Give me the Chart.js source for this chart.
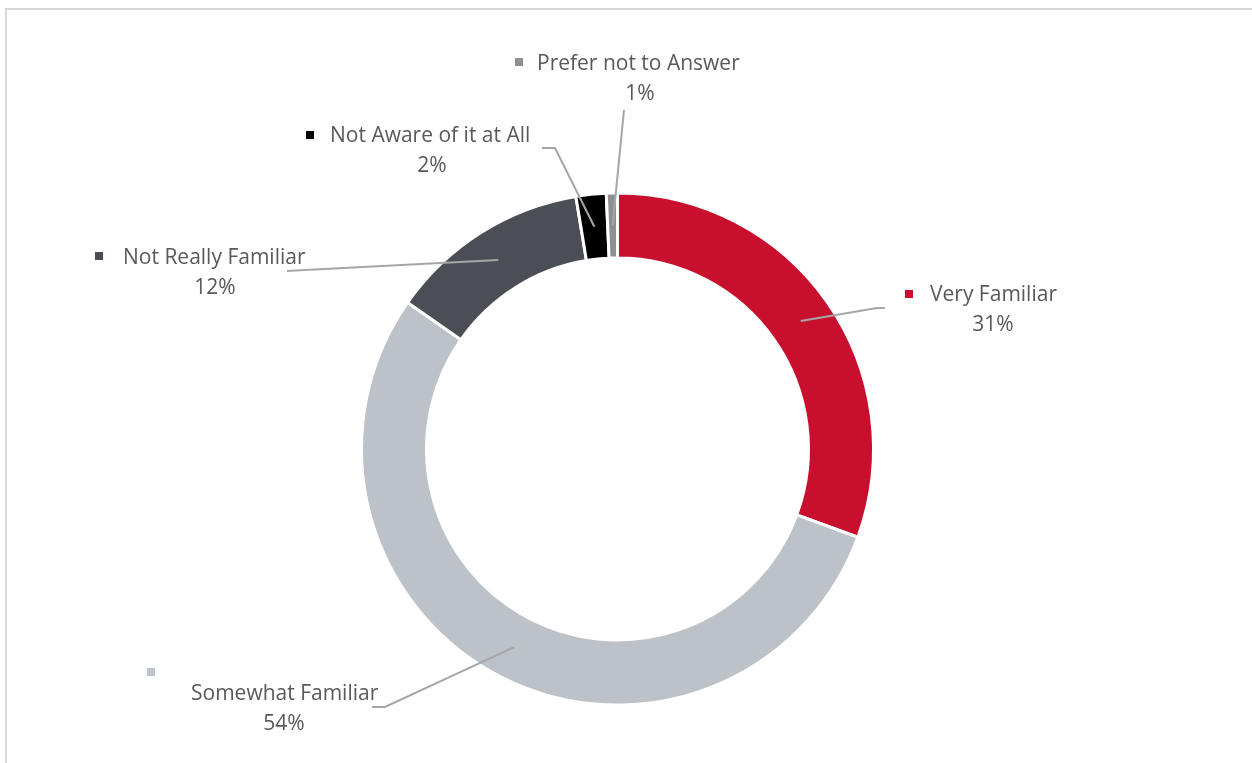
<!DOCTYPE html>
<html>
<head>
<meta charset="utf-8">
<script src="https://cdn.jsdelivr.net/npm/chart.js@4.4.1/dist/chart.umd.min.js"></script>
<style>
  html, body { margin: 0; padding: 0; background: #fff; }
  #wrap { position: relative; width: 1252px; height: 763px; overflow: hidden; }
  #frame {
    position: absolute; left: 5px; top: 8px; width: 1400px; height: 900px;
    border-left: 2px solid #d9d9d9; border-top: 2px solid #d9d9d9;
  }
  canvas { position: absolute; left: 0; top: 0; }
</style>
</head>
<body>
<div id="wrap">
  <div id="frame"></div>
  <canvas id="chart" width="1252" height="763"></canvas>
</div>
<script>
// values (share of respondents, %)
const categories = ['Very Familiar', 'Somewhat Familiar', 'Not Really Familiar', 'Not Aware of it at All', 'Prefer not to Answer'];
const shares = [30.6, 54.1, 12.7, 1.9, 0.7];
const shareLabels = ['31%', '54%', '12%', '2%', '1%'];
const colors = ['#c8102e', '#bcc2c7', '#4b4e55', '#000000', '#8f8f8f'];

// where each data label sits: text left / vertical centre, percent centre,
// legend key centre, and leader line points before it reaches the ring
const labelLayout = [
    { textX: 930, y: 295, pctX: 993, key: [909, 294], leader: [[885, 308], [877, 308]] },
    { textX: 191, y: 694, pctX: 284, key: [151, 672], leader: [[372, 707], [385, 707]] },
    { textX: 123, y: 258, pctX: 215, key: [99, 256], leader: [[287, 271], [305, 270]] },
    { textX: 330, y: 136, pctX: 432, key: [310, 135], leader: [[542, 148], [555, 148]] },
    { textX: 537, y: 64, pctX: 640, key: [519, 62], leader: [[624, 110]] }
];

const labelFont = '21px "Open Sans", "Noto Sans", sans-serif';
const textColor = '#595959';
const leaderColor = '#a6a6a6';

const calloutPlugin = {
    id: 'callouts',
    afterDatasetsDraw(chart) {
        const ctx = chart.ctx;
        const meta = chart.getDatasetMeta(0);
        ctx.save();

        meta.data.forEach((arc, i) => {
            const lay = labelLayout[i];
            const p = arc.tooltipPosition();

            // leader line
            ctx.strokeStyle = leaderColor;
            ctx.lineWidth = 2;
            ctx.beginPath();
            ctx.moveTo(lay.leader[0][0], lay.leader[0][1]);
            lay.leader.slice(1).forEach(pt => ctx.lineTo(pt[0], pt[1]));
            ctx.lineTo(p.x, p.y);
            ctx.stroke();

            // legend key
            ctx.fillStyle = colors[i];
            ctx.fillRect(lay.key[0] - 4, lay.key[1] - 4, 8, 8);

            // text
            ctx.font = labelFont;
            ctx.fillStyle = textColor;
            ctx.textBaseline = 'middle';
            ctx.textAlign = 'left';
            ctx.fillText(categories[i], lay.textX, lay.y);
            ctx.textAlign = 'center';
            ctx.fillText(shareLabels[i], lay.pctX, lay.y + 30);
        });

        ctx.restore();
    }
};

new Chart(document.getElementById('chart'), {
    type: 'doughnut',
    data: {
        labels: categories,
        datasets: [{
            data: shares,
            backgroundColor: colors,
            borderColor: '#ffffff',
            borderWidth: 3,
            hoverOffset: 0
        }]
    },
    options: {
        responsive: false,
        animation: false,
        radius: 256,
        cutout: '74.6%',
        layout: { padding: { left: 0, right: 17, top: 135, bottom: 0 } },
        plugins: {
            legend: { display: false },
            tooltip: { enabled: false }
        }
    },
    plugins: [calloutPlugin]
});
</script>
</body>
</html>
